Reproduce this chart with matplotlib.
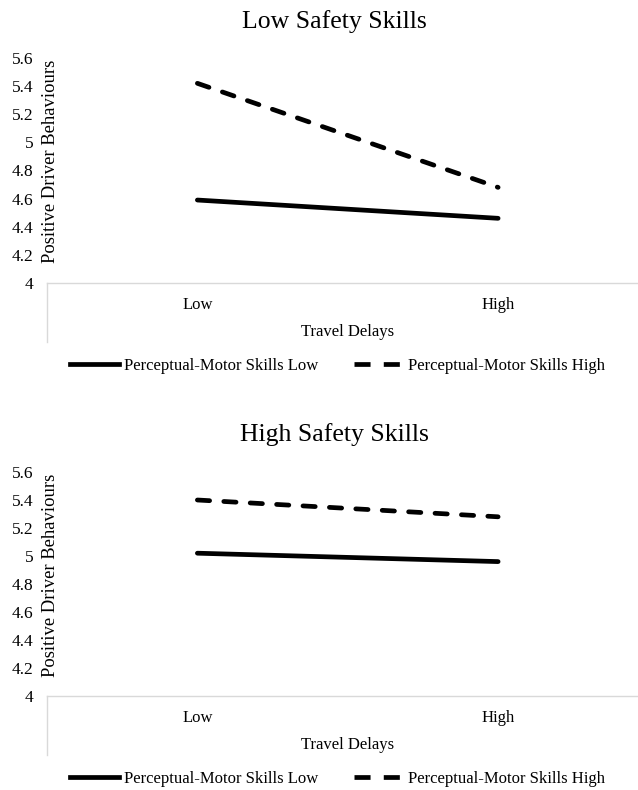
import matplotlib.pyplot as plt
import matplotlib.lines as mlines

plt.rcParams['font.family'] = ['Liberation Serif', 'DejaVu Serif']

# data
categories = ['Low', 'High']
panel_titles = ['Low Safety Skills', 'High Safety Skills']
pm_low = [[4.59, 4.46], [5.02, 4.96]]     # Perceptual-Motor Skills Low
pm_high = [[5.42, 4.68], [5.40, 5.28]]    # Perceptual-Motor Skills High
y_ticks = [4, 4.2, 4.4, 4.6, 4.8, 5, 5.2, 5.4, 5.6]
y_tick_labels = ['4', '4.2', '4.4', '4.6', '4.8', '5', '5.2', '5.4', '5.6']

W, H = 638, 790
fig = plt.figure(figsize=(W / 100, H / 100), dpi=100)

# pixel layout of each panel: (axes top, axes bottom, title y)
layout = [(58, 283, 22), (472, 696, 435)]
left_px, right_px = 47, 638
grey = '#d9d9d9'
lw = 3.4

for i, (top, bottom, title_y) in enumerate(layout):
    ax = fig.add_axes([left_px / W, 1 - bottom / H, (right_px - left_px) / W, (bottom - top) / H])
    h_px = bottom - top
    w_px = right_px - left_px

    x = list(range(len(categories)))
    ax.plot(x, pm_low[i], color='black', linewidth=lw, solid_capstyle='round')
    ax.plot(x, pm_high[i], color='black', linewidth=lw, dashes=(2.6, 3.0),
            dash_capstyle='round')

    ax.set_xlim(-0.5, (right_px - 197) / 301)
    ax.set_ylim(4, 5.6)
    ax.set_yticks(y_ticks)
    ax.set_yticklabels(y_tick_labels, fontsize=12.5)
    ax.set_xticks(x)
    ax.set_xticklabels(categories, fontsize=12)
    ax.tick_params(axis='y', length=0, pad=10)
    ax.tick_params(axis='x', length=0, pad=10)

    for s in ['top', 'right', 'left']:
        ax.spines[s].set_visible(False)
    ax.spines['bottom'].set_color(grey)
    ax.spines['bottom'].set_linewidth(1.0)

    # vertical separator under the category axis
    ax.plot([0, 0], [0, -59 / h_px], transform=ax.transAxes, color=grey,
            linewidth=1.0, clip_on=False)

    ax.text(4 / w_px, 0.54, 'Positive Driver Behaviours', transform=ax.transAxes,
            rotation=90, ha='center', va='center', fontsize=13.4)
    ax.text((348 - left_px) / w_px, -49 / h_px, 'Travel Delays', transform=ax.transAxes,
            ha='center', va='center', fontsize=12)

    fig.text(334.5 / W, 1 - title_y / H, panel_titles[i], ha='center', va='center',
             fontsize=18.5)

    h1 = mlines.Line2D([], [], color='black', linewidth=lw)
    h2 = mlines.Line2D([], [], color='black', linewidth=lw, dashes=(3.4, 2.8))
    ax.legend([h1, h2], ['Perceptual-Motor Skills Low', 'Perceptual-Motor Skills High'],
              loc='center', bbox_to_anchor=((337.5 - left_px) / w_px, -83 / h_px),
              ncol=2, frameon=False, fontsize=12, handlelength=2.9,
              columnspacing=2.2, handletextpad=0.3, borderaxespad=0)

fig.savefig('out.png', dpi=100)
